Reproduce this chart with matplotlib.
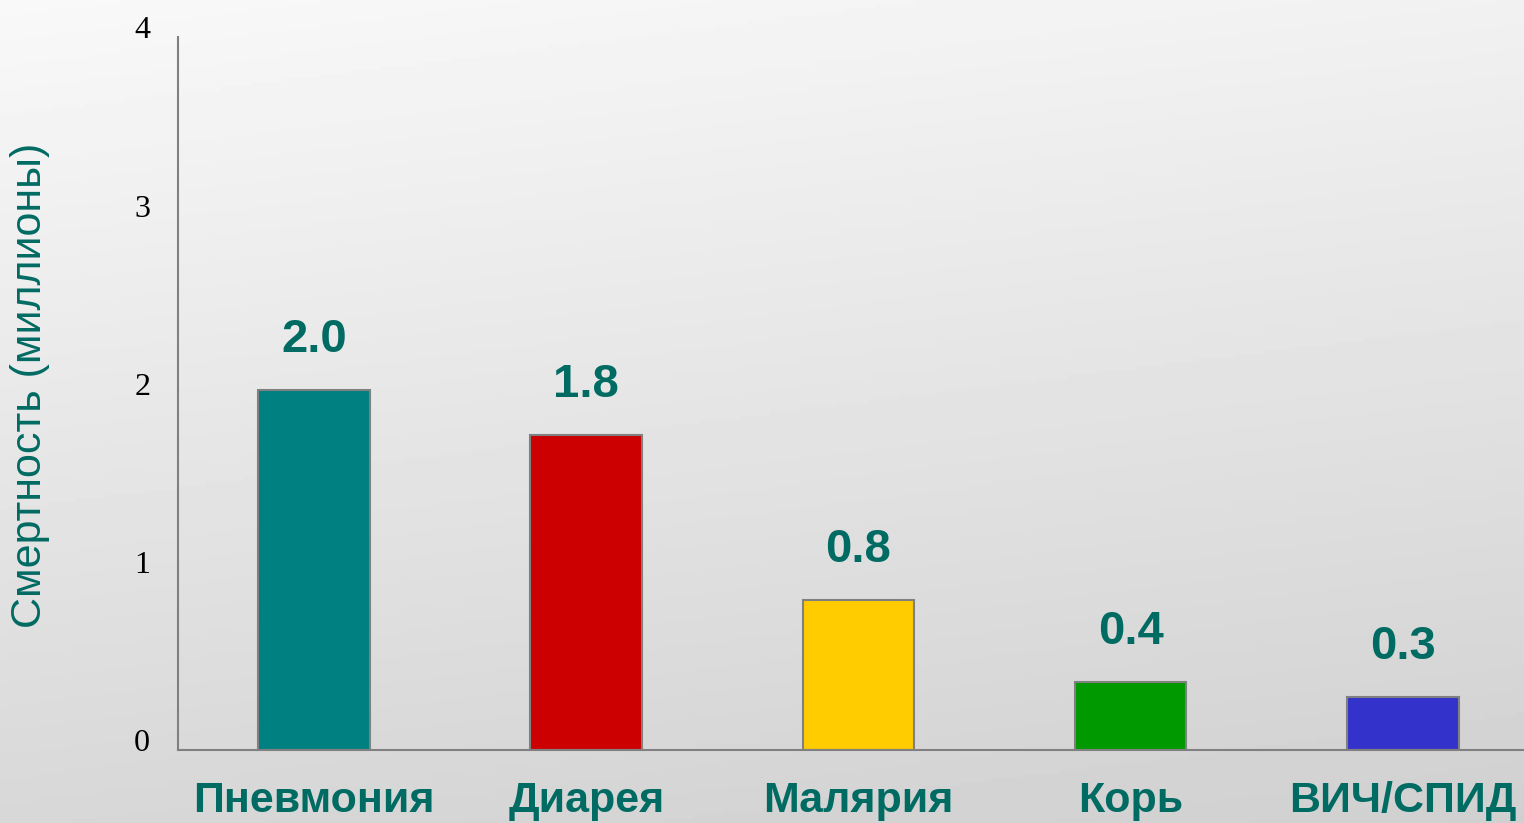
import matplotlib.pyplot as plt
import matplotlib.transforms as mtransforms
import numpy as np

categories = ['Пневмония', 'Диарея', 'Малярия', 'Корь', 'ВИЧ/СПИД']
deaths = [2.02, 1.77, 0.84, 0.38, 0.30]
value_labels = ['2.0', '1.8', '0.8', '0.4', '0.3']
bar_colors = ['#008080', '#CC0000', '#FFCC00', '#009900', '#3333CC']
yticks = [0, 1, 2, 3, 4]

teal = '#006B63'

fig = plt.figure(figsize=(15.24, 8.23), dpi=100)

# gradient background
bg = fig.add_axes([0, 0, 1, 1], zorder=0)
yy, xx = np.mgrid[0:1:200j, 0:1:200j]
grad = 0.975 - 0.13 * yy - 0.03 * xx
bg.imshow(grad, cmap='gray', vmin=0, vmax=1, aspect='auto', extent=[0, 1, 0, 1], origin='upper')
bg.axis('off')

ax = fig.add_axes([0.1168, 0.0887, 0.893, 0.8663], zorder=1)
ax.patch.set_alpha(0)
x = np.arange(len(categories))
bars = ax.bar(x, deaths, width=0.41, color=bar_colors, edgecolor='#808080', linewidth=1.5)

for b, lab in zip(bars, value_labels):
    ax.annotate(lab, (b.get_x() + b.get_width() / 2, b.get_height()),
                xytext=(0, 20), textcoords='offset points', ha='center', va='bottom',
                fontsize=34, fontweight='bold', color=teal, family='Liberation Sans')

ax.set_xlim(-0.5, 4.5)
ax.set_ylim(0, 4)
ax.set_xticks(x)
ax.set_xticklabels(categories, fontsize=31, fontweight='bold', color=teal, family='Liberation Sans')
ax.set_yticks(yticks)
ax.set_yticklabels([str(t) for t in yticks], fontsize=23, family='Liberation Serif')
ax.tick_params(axis='x', length=0, pad=22)
ax.tick_params(axis='y', length=0, pad=20)
shift = mtransforms.ScaledTranslation(0, 7 / 72, fig.dpi_scale_trans)
for t in ax.get_yticklabels():
    t.set_transform(t.get_transform() + shift)

for s in ['top', 'right']:
    ax.spines[s].set_visible(False)
for s in ['left', 'bottom']:
    ax.spines[s].set_color('#808080')
    ax.spines[s].set_linewidth(1.5)

fig.text(0.02, 0.532, 'Смертность (миллионы)', rotation=90, ha='center', va='center',
         fontsize=31, color=teal, family='Liberation Sans')

fig.savefig('out.png', dpi=100)
